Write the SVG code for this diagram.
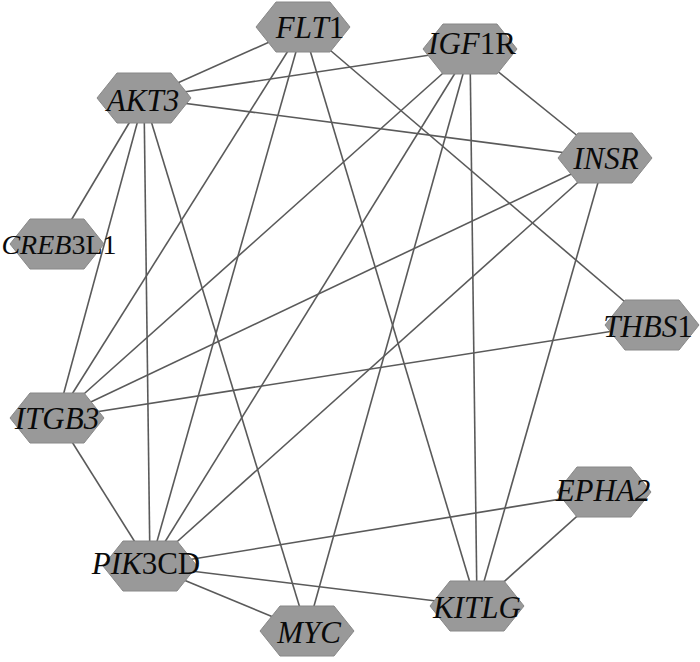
<svg xmlns="http://www.w3.org/2000/svg" width="700" height="662" viewBox="0 0 700 662">
<style>
.edge{stroke:#5a5a5a;stroke-width:1.6;fill:none}
.hex{fill:#999999;stroke:#888888;stroke-width:1}
.lbl{font-family:"Liberation Serif","Times New Roman",serif;font-size:31px;fill:#0a0a0a;text-anchor:middle}
.i{font-style:italic}
</style>
<defs>
<polygon id="hx" points="-47,0 -27,-25 27,-25 47,0 27,25 -27,25"/>
</defs>
<rect width="700" height="662" fill="#fff"/>
<g id="edges">
<line class="edge" x1="303" y1="27" x2="144" y2="98"/>
<line class="edge" x1="303" y1="27" x2="57" y2="418"/>
<line class="edge" x1="303" y1="27" x2="150" y2="566"/>
<line class="edge" x1="303" y1="27" x2="477" y2="606"/>
<line class="edge" x1="303" y1="27" x2="652" y2="325"/>
<line class="edge" x1="470" y1="49" x2="144" y2="98"/>
<line class="edge" x1="470" y1="49" x2="605" y2="158"/>
<line class="edge" x1="470" y1="49" x2="57" y2="418"/>
<line class="edge" x1="470" y1="49" x2="150" y2="566"/>
<line class="edge" x1="470" y1="49" x2="307" y2="631"/>
<line class="edge" x1="470" y1="49" x2="477" y2="606"/>
<line class="edge" x1="144" y1="98" x2="605" y2="158"/>
<line class="edge" x1="144" y1="98" x2="57" y2="244"/>
<line class="edge" x1="144" y1="98" x2="57" y2="418"/>
<line class="edge" x1="144" y1="98" x2="150" y2="566"/>
<line class="edge" x1="144" y1="98" x2="307" y2="631"/>
<line class="edge" x1="605" y1="158" x2="57" y2="418"/>
<line class="edge" x1="605" y1="158" x2="150" y2="566"/>
<line class="edge" x1="605" y1="158" x2="477" y2="606"/>
<line class="edge" x1="652" y1="325" x2="57" y2="418"/>
<line class="edge" x1="57" y1="418" x2="150" y2="566"/>
<line class="edge" x1="150" y1="566" x2="604" y2="492"/>
<line class="edge" x1="150" y1="566" x2="477" y2="606"/>
<line class="edge" x1="150" y1="566" x2="307" y2="631"/>
<line class="edge" x1="604" y1="492" x2="477" y2="606"/>
</g>
<g id="FLT1"><use href="#hx" class="hex" x="303" y="27"/><text class="lbl" x="310" y="38"><tspan class="i">FLT</tspan>1</text></g>
<g id="IGF1R"><use href="#hx" class="hex" x="470" y="49"/><text class="lbl" x="472" y="54"><tspan class="i">IGF</tspan>1R</text></g>
<g id="AKT3"><use href="#hx" class="hex" x="144" y="98"/><text class="lbl i" x="143" y="111">AKT3</text></g>
<g id="INSR"><use href="#hx" class="hex" x="605" y="158"/><text class="lbl i" x="606" y="169">INSR</text></g>
<g id="CREB3L1"><use href="#hx" class="hex" x="57" y="244"/><text class="lbl" x="59" y="254" style="font-size:28px"><tspan class="i">CREB</tspan>3L1</text></g>
<g id="THBS1"><use href="#hx" class="hex" x="652" y="325"/><text class="lbl" x="648" y="337"><tspan class="i">THBS</tspan>1</text></g>
<g id="ITGB3"><use href="#hx" class="hex" x="57" y="418"/><text class="lbl i" x="57" y="429">ITGB3</text></g>
<g id="EPHA2"><use href="#hx" class="hex" x="604" y="492"/><text class="lbl i" x="603" y="501">EPHA2</text></g>
<g id="PIK3CD"><use href="#hx" class="hex" x="150" y="566"/><text class="lbl" x="146" y="574"><tspan class="i">PIK</tspan>3CD</text></g>
<g id="KITLG"><use href="#hx" class="hex" x="477" y="606"/><text class="lbl i" x="477" y="618">KITLG</text></g>
<g id="MYC"><use href="#hx" class="hex" x="307" y="631"/><text class="lbl i" x="309" y="643">MYC</text></g>
</svg>
